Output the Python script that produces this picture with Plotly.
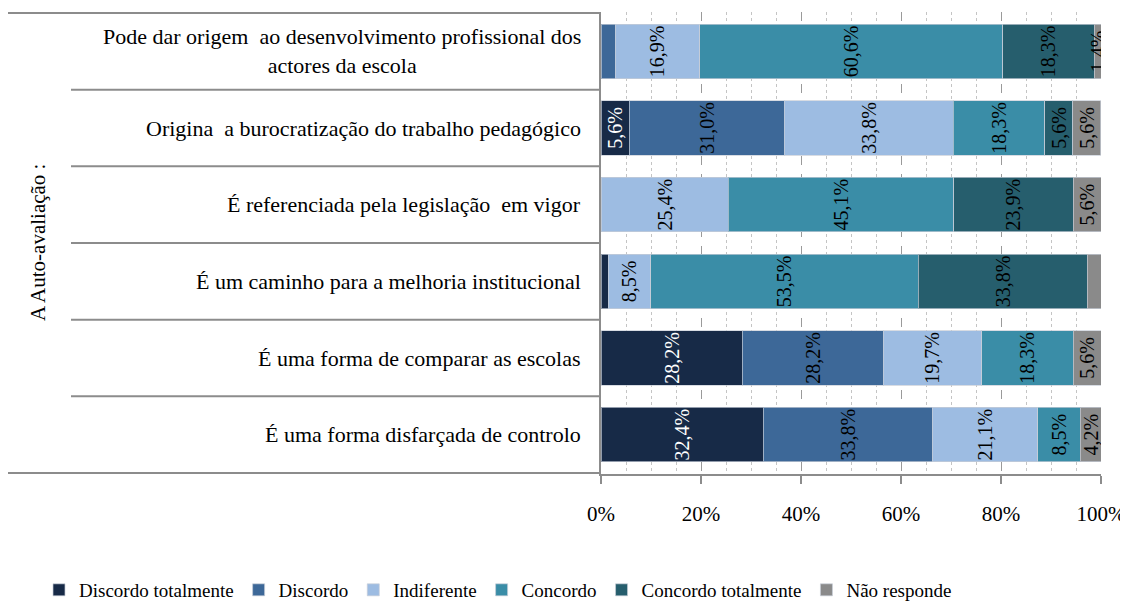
import plotly.graph_objects as go

categories = [
    "Pode dar origem  ao desenvolvimento profissional dos<br>actores da escola",
    "Origina  a burocratização do trabalho pedagógico",
    "É referenciada pela legislação  em vigor",
    "É um caminho para a melhoria institucional",
    "É uma forma de comparar as escolas",
    "É uma forma disfarçada de controlo",
]

series_names = ["Discordo totalmente", "Discordo", "Indiferente", "Concordo",
                "Concordo totalmente", "Não responde"]

discordo_totalmente = [0.0, 5.6, 0.0, 1.4, 28.2, 32.4]
discordo = [2.8, 31.0, 0.0, 0.0, 28.2, 33.8]
indiferente = [16.9, 33.8, 25.4, 8.5, 19.7, 21.1]
concordo = [60.6, 18.3, 45.1, 53.5, 18.3, 8.5]
concordo_totalmente = [18.3, 5.6, 23.9, 33.8, 0.0, 0.0]
nao_responde = [1.4, 5.6, 5.6, 2.8, 5.6, 4.2]

series_values = [discordo_totalmente, discordo, indiferente, concordo,
                 concordo_totalmente, nao_responde]

# labels that the original chart does not display (series index, row index)
hidden_labels = {(1, 0), (0, 3), (5, 3)}

colors = ["#172a47", "#3d6898", "#9dbce2", "#3a8da7", "#265e6d", "#8a8a8a"]
label_colors = ["#ffffff", "#000000", "#000000", "#000000", "#000000", "#000000"]

FONT = "Liberation Serif"

# the page body adds an 8px offset; figure size compensates for it
W, H = 1120, 595

fig = go.Figure()
for si, (name, vals) in enumerate(zip(series_names, series_values)):
    texts = []
    for ri, v in enumerate(vals):
        if v <= 0 or (si, ri) in hidden_labels:
            texts.append("")
        else:
            texts.append(f"{v:.1f}%".replace(".", ","))
    fig.add_trace(go.Bar(
        name=name,
        y=categories,
        x=vals,
        orientation="h",
        marker=dict(color=colors[si], line=dict(color="rgba(200,205,215,0.7)", width=1)),
        text=texts,
        textposition="inside",
        insidetextanchor="middle",
        textangle=-90,
        constraintext="none",
        textfont=dict(family=FONT, size=20, color=label_colors[si]),
        hoverinfo="name+x",
    ))

fig.update_layout(
    barmode="stack",
    bargap=0.29,
    width=W,
    height=H,
    margin=dict(l=593, r=27, t=4, b=129, autoexpand=False),
    paper_bgcolor="white",
    plot_bgcolor="white",
    font=dict(family=FONT, size=19, color="#000000"),
    showlegend=True,
    legend=dict(
        orientation="h",
        xref="paper", yref="paper",
        x=-1.124, xanchor="left",
        y=-0.251, yanchor="middle",
        font=dict(family=FONT, size=19),
        itemwidth=30,
        traceorder="normal",
    ),
)

fig.update_xaxes(
    range=[0, 100],
    dtick=20,
    ticksuffix="%",
    showgrid=True,
    gridcolor="#9a9a9a",
    griddash="dash",
    gridwidth=1,
    minor=dict(dtick=5, showgrid=True, gridcolor="#c4c4c4", griddash="dot", gridwidth=1),
    showline=True,
    linecolor="#8c8c8c",
    linewidth=2,
    ticks="outside",
    ticklen=8,
    tickcolor="#8c8c8c",
    tickwidth=2,
    tickfont=dict(family=FONT, size=21),
    ticklabelstandoff=12,
    zeroline=False,
    automargin=False,
)

fig.update_yaxes(
    autorange="reversed",
    showticklabels=False,
    showline=True,
    linecolor="#8c8c8c",
    linewidth=2,
    showgrid=False,
    zeroline=False,
    ticks="",
    automargin=False,
)

# Category labels
for cat in categories:
    fig.add_annotation(
        x=-0.036, xref="paper", xanchor="right",
        y=cat, yref="y",
        text=cat, showarrow=False, align="center",
        font=dict(family=FONT, size=22, color="#000000"),
    )

# Axis title
fig.add_annotation(
    x=-1.126, xref="paper", xanchor="center",
    y=0.5, yref="paper", yanchor="middle",
    text="A Auto-avaliação :", textangle=-90, showarrow=False,
    font=dict(family=FONT, size=21, color="#000000"),
)

# Category separator lines (multi-level category axis style)
n = len(categories)
for i in range(n + 1):
    yv = i - 0.5
    x0 = -1.186 if i in (0, n) else -1.06
    fig.add_shape(type="line", xref="paper", yref="y",
                  x0=x0, x1=0, y0=yv, y1=yv,
                  line=dict(color="#8c8c8c", width=2), layer="above")

fig.write_html("out.html")
